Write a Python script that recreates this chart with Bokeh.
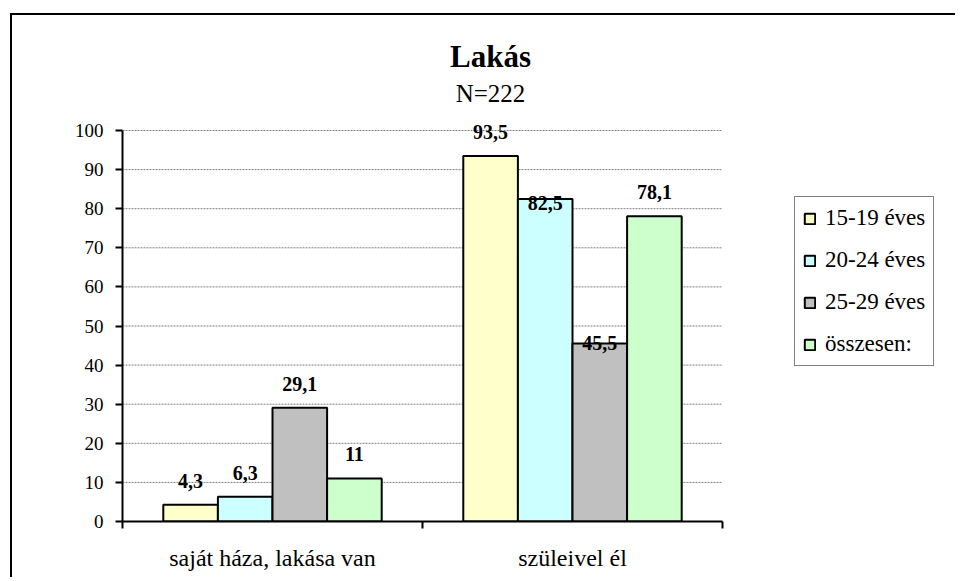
from bokeh.plotting import figure
from bokeh.models import ColumnDataSource, FixedTicker, LabelSet, Label, Legend, LegendItem
from bokeh.core.properties import value
from bokeh.embed import file_html
from bokeh.resources import INLINE

# ---- data ----
categories = ["saját háza, lakása van", "szüleivel él"]
series_names = ["15-19 éves", "20-24 éves", "25-29 éves", "összesen:"]
v_15_19 = [4.3, 93.5]
v_20_24 = [6.3, 82.5]
v_25_29 = [29.1, 45.5]
v_total = [11, 78.1]
y_ticks = [0, 10, 20, 30, 40, 50, 60, 70, 80, 90, 100]
title_text = "Lakás"
subtitle_text = "N=222"

# ---- styles / layout ----
colors = ["#FFFFCC", "#CCFFFF", "#C0C0C0", "#CCFFCC"]
label_lift = [[24, 24], [24, -4], [24, 1], [24, 24]]  # px above bar top
FONT = "Liberation Serif"
BAR_W = 0.182
N_CAT = len(categories)
Y_MAX = 100
PX_PER_X = 300.0
PX_PER_Y = 3.91
FRAME_W = 835
FRAME_H = 506

p = figure(width=110 + FRAME_W, height=FRAME_H + 58,
           x_range=(0, FRAME_W / PX_PER_X), y_range=(0, FRAME_H / PX_PER_Y),
           output_backend="svg", toolbar_location=None,
           min_border_left=110, min_border_right=0,
           min_border_top=0, min_border_bottom=58)
p.margin = (13, 0, 0, 10)
p.styles = {"border-top": "2px solid black", "border-left": "2px solid black"}
p.outline_line_color = None
p.background_fill_color = "white"
p.border_fill_color = "white"
p.xgrid.grid_line_color = None
p.ygrid.grid_line_color = None

# grid lines (dotted), only across the category area
p.segment(x0=0, x1=N_CAT, y0=y_ticks[1:], y1=y_ticks[1:],
          line_color="#808080", line_dash="2 1", line_width=1)

all_series = [v_15_19, v_20_24, v_25_29, v_total]
items = []
for j, vals in enumerate(all_series):
    xs = [i + 0.5 + (j - 1.5) * BAR_W for i in range(N_CAT)]
    txt = [str(v).replace(".", ",") for v in vals]
    src = ColumnDataSource(dict(x=xs, top=vals, txt=txt, off=label_lift[j]))
    r = p.vbar(x="x", top="top", bottom=0, width=BAR_W, source=src,
               fill_color=colors[j], line_color="black", line_width=2)
    items.append(LegendItem(label=series_names[j], renderers=[r]))
    ls = LabelSet(x="x", y="top", text="txt", y_offset="off", source=src,
                  text_align="center", text_baseline="middle",
                  text_font=value(FONT), text_font_size=value("20px"),
                  text_font_style=value("bold"), text_color="black")
    p.add_layout(ls)

# axes
p.yaxis.bounds = (0, Y_MAX)
p.yaxis.ticker = FixedTicker(ticks=y_ticks)
p.yaxis.axis_line_width = 2
p.yaxis.major_tick_line_width = 2
p.yaxis.major_tick_out = 7
p.yaxis.major_tick_in = 0
p.yaxis.minor_tick_line_color = None
p.yaxis.major_label_standoff = 12
p.yaxis.major_label_text_font = FONT
p.yaxis.major_label_text_font_size = "19px"
p.yaxis.major_label_text_color = "black"

p.xaxis.bounds = (0, N_CAT)
p.xaxis.ticker = FixedTicker(ticks=[0.5, 1.5], minor_ticks=[0, 1, 2])
p.xaxis.major_label_overrides = {0.5: categories[0], 1.5: categories[1]}
p.xaxis.axis_line_width = 2
p.xaxis.major_tick_line_color = None
p.xaxis.minor_tick_line_width = 2
p.xaxis.minor_tick_out = 7
p.xaxis.minor_tick_in = 0
p.xaxis.major_label_standoff = 16
p.xaxis.major_label_text_font = FONT
p.xaxis.major_label_text_font_size = "24px"
p.xaxis.major_label_text_color = "black"

# titles (placed in data space above the bars)
title_x = (490 - 122) / PX_PER_X
p.add_layout(Label(x=title_x, y=(521 - 56) / PX_PER_Y, text=title_text,
                   text_align="center", text_baseline="alphabetic", text_font=FONT,
                   text_font_size="31px", text_font_style="bold", text_color="black"))
p.add_layout(Label(x=title_x, y=(521 - 93) / PX_PER_Y, text=subtitle_text,
                   text_align="center", text_baseline="alphabetic", text_font=FONT,
                   text_font_size="25px", text_color="black"))

legend = Legend(items=items, location=(672, 155), margin=0,
                label_text_font=FONT, label_text_font_size="23px",
                label_text_color="black", label_height=20,
                glyph_width=13, glyph_height=13, spacing=16, padding=8,
                label_standoff=9, border_line_color="black", border_line_width=1.5,
                background_fill_color="white", background_fill_alpha=1)
p.add_layout(legend, "center")

open("out.html", "w").write(file_html(p, INLINE))
